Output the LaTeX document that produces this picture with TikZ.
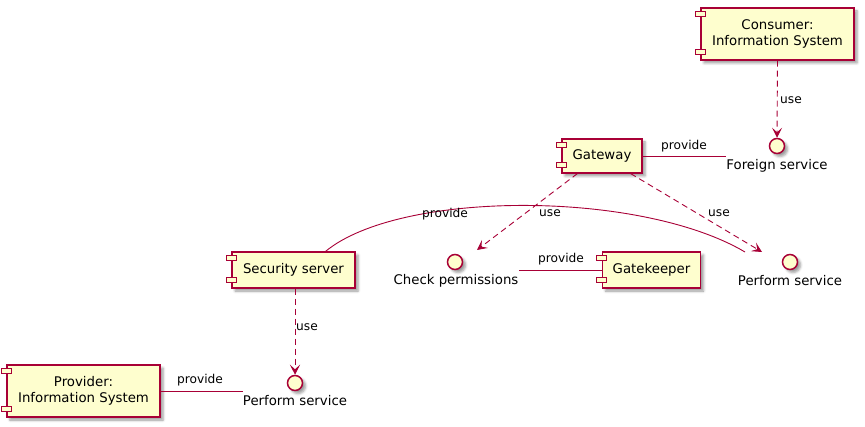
\documentclass[tikz,border=0pt]{standalone}
\usepackage{fontspec}
\setmainfont{DejaVu Sans}
\usetikzlibrary{arrows.meta,shadows.blur,calc}
\definecolor{umlred}{HTML}{A80036}
\definecolor{umlfill}{HTML}{FEFECE}
\tikzset{
  shad/.style={blur shadow={shadow xshift=3pt, shadow yshift=-3pt, shadow opacity=40, shadow blur radius=2.5pt}},
  comp/.style={draw=umlred, fill=umlfill, line width=1.1pt, rectangle, inner sep=0pt,
    font=\fontsize{13.3}{15.5}\selectfont, align=center, shad},
  iface/.style={draw=umlred, fill=umlfill, line width=1.5pt, circle, minimum size=15pt, inner sep=0pt, shad},
  ilabel/.style={font=\fontsize{13.3}{15.5}\selectfont, inner sep=0pt},
  elabel/.style={font=\fontsize{12.2}{14}\selectfont, inner sep=0pt},
  conn/.style={draw=umlred, line width=0.9pt},
  usearrow/.style={conn, dash pattern=on 6pt off 4pt, -{Stealth[length=10pt,width=10pt,inset=4.5pt]}},
  compicon/.style={draw=umlred, fill=umlfill, line width=1pt},
}
\begin{document}
\begin{tikzpicture}[x=1pt,y=-1pt]
\useasboundingbox (0,0) rectangle (865,427);
% components
\node[comp, minimum width=153pt, minimum height=52pt] (cons) at (777.5,34) {Consumer:\\Information System};
\node[comp, minimum width=80pt, minimum height=34pt] (gw) at (602,156) {Gateway};
\node[comp, minimum width=123pt, minimum height=36pt] (ss) at (293.5,270) {Security server};
\node[comp, minimum width=98pt, minimum height=36pt] (gk) at (651.5,270) {Gatekeeper};
\node[comp, minimum width=153pt, minimum height=52pt] (prov) at (83.5,391) {Provider:\\Information System};
\foreach \n in {cons,gw,ss,gk,prov} {
  \draw[compicon] ($(\n.north west)+(-5pt,-4pt)$) rectangle ++(10pt,-5pt);
  \draw[compicon] ($(\n.south west)+(-5pt,6pt)$) rectangle ++(10pt,5pt);
}
% interfaces
\node[iface] (fs) at (777,146) {};
\node[ilabel] (fsl) at (777,166) {Foreign service};
\node[iface] (cp) at (455,262) {};
\node[ilabel] (cpl) at (456,281) {Check permissions};
\node[iface] (ps1) at (790,262) {};
\node[ilabel] (ps1l) at (790,281) {Perform service};
\node[iface] (ps2) at (295,383) {};
\node[ilabel] (ps2l) at (295,401) {Perform service};
% connector ends
\coordinate (gwa) at ($(gw.south west)+(16pt,0)$);
\coordinate (gwb) at ($(gw.south east)+(-12pt,0)$);
\coordinate (cpin) at (477,250);
\coordinate (psin) at (762,252);
\coordinate (psend) at (745,252);
\coordinate (ssa) at ($(ss.north west)+(94pt,0)$);
% connectors
\draw[usearrow] (cons.south) -- (fs.north);
\node[elabel] (u1) at (791,100) {use};
\draw[conn] (gw.east) -- (gw.east -| fsl.west);
\node[elabel] (p1) at (684,146) {provide};
\draw[usearrow] (gwa) -- (cpin);
\node[elabel] (u2) at (550,213) {use};
\draw[usearrow] (gwb) -- (psin);
\node[elabel] (u3) at (719,213) {use};
\draw[conn] (ssa) .. controls (400,190) and (640,190) .. (psend);
\node[elabel] (p2) at (445,214) {provide};
\draw[conn] (gk.west) -- (gk.west -| cpl.east);
\node[elabel] (p3) at (561,259) {provide};
\draw[usearrow] (ss.south -| ps2) -- (ps2.north);
\node[elabel] (u4) at (307,327) {use};
\draw[conn] (prov.east) -- (prov.east -| ps2l.west);
\node[elabel] (p4) at (200,380) {provide};
\end{tikzpicture}
\end{document}
